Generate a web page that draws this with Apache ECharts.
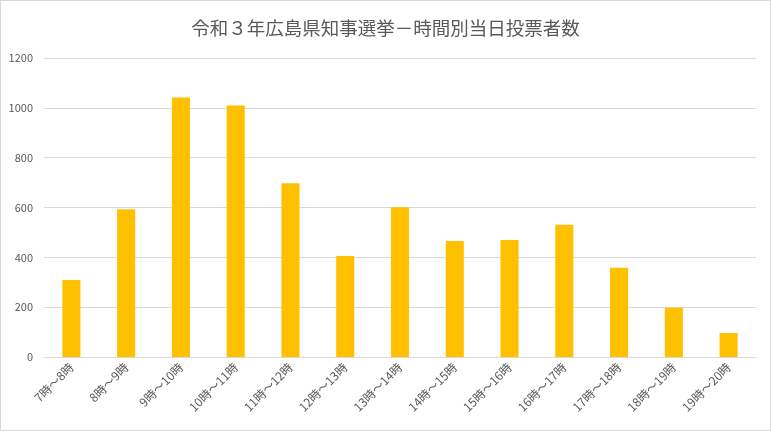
<!DOCTYPE html>
<html>
<head>
<meta charset="utf-8">
<script src="https://cdn.jsdelivr.net/npm/echarts@6/dist/echarts.min.js"></script>
<style>
  html, body { margin: 0; padding: 0; background: #fff; }
  #chart { width: 769px; height: 429px; border: 1px solid #d9d9d9; }
</style>
</head>
<body>
<div id="chart"></div>
<script>
const titleText = "令和３年広島県知事選挙－時間別当日投票者数"
const hours = ["7時～8時", "8時～9時", "9時～10時", "10時～11時", "11時～12時", "12時～13時",
  "13時～14時", "14時～15時", "15時～16時", "16時～17時", "17時～18時", "18時～19時", "19時～20時"]
const voters = [309, 593, 1041, 1009, 697, 405, 601, 466, 470, 531, 358, 198, 96]
const yTicks = [0, 200, 400, 600, 800, 1000, 1200]

const font = '"Noto Sans CJK JP", sans-serif'
const chart = echarts.init(document.getElementById("chart"))

chart.setOption({
  animation: false,
  title: {
    text: titleText,
    left: "center",
    top: 13,
    textStyle: { color: "#595959", fontSize: 18.5, fontWeight: "normal", fontFamily: font },
  },
  grid: { left: 43, right: 14, top: 57, bottom: 73 },
  xAxis: {
    type: "category",
    data: hours,
    axisLine: { lineStyle: { color: "#d9d9d9" } },
    axisTick: { show: false },
    axisLabel: {
      interval: 0,
      rotate: 45,
      color: "#595959",
      fontSize: 12,
      fontFamily: font,
      margin: 8,
    },
  },
  yAxis: {
    type: "value",
    min: yTicks[0],
    max: yTicks[yTicks.length - 1],
    interval: 200,
    axisLine: { show: false },
    axisTick: { show: false },
    splitLine: { lineStyle: { color: "#d9d9d9" } },
    axisLabel: {
      color: "#595959",
      fontSize: 11,
      fontFamily: font,
      margin: 11,
      formatter: v => String(v),
    },
  },
  series: [
    {
      type: "bar",
      data: voters,
      barWidth: "33%",
      itemStyle: { color: "#ffc000" },
    },
  ],
})
</script>
</body>
</html>
